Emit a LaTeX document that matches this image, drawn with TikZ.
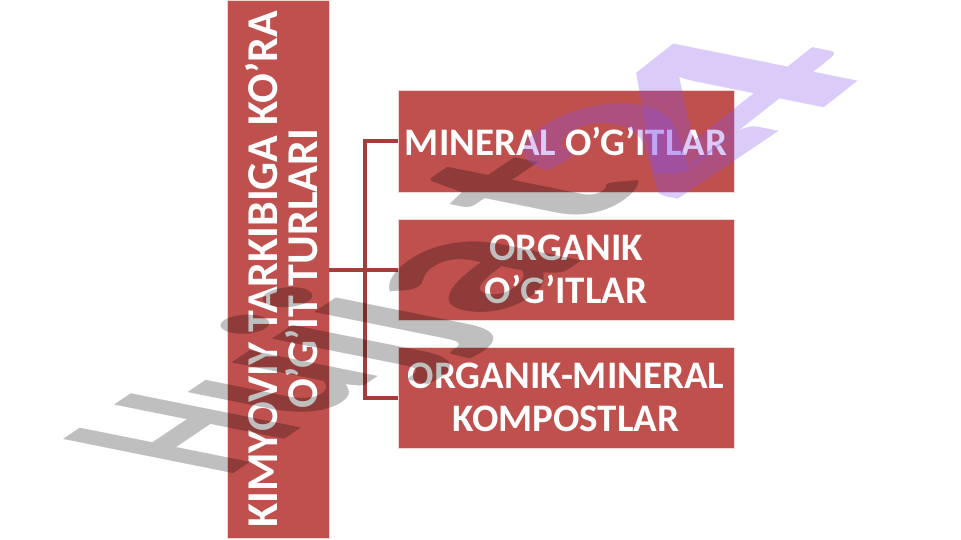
\documentclass[tikz,border=0pt]{standalone}
\usepackage{fontspec}
\setmainfont{Carlito}
\definecolor{boxred}{RGB}{192,80,77}
\definecolor{connred}{RGB}{165,62,58}
\definecolor{boxline}{RGB}{240,215,214}
\definecolor{wmpurple}{RGB}{134,83,238}
\newcommand\wmch[8]{\begin{scope}[cm={#4,#5,#6,#7,(#2pt,#3pt)}]\node[wm,#8] at (0,0) {#1};\end{scope}}
\begin{document}
\begin{tikzpicture}[x=1pt,y=1pt,
  box/.style={draw=boxline, line width=0.8pt, fill=boxred, inner sep=0pt},
  lbl/.style={text=white, font=\bfseries\fontsize{39}{43}\selectfont, align=center},
  conn/.style={draw=connred, line width=4pt},
  wm/.style={anchor=base west, inner sep=0pt, outer sep=0pt, transform shape, font=\bfseries\fontsize{100}{100}\selectfont},
  wmgray/.style={text=black, opacity=0.25},
  wmviolet/.style={text=wmpurple, opacity=0.3}]
\fill[white] (0,0) rectangle (961,-540);
\useasboundingbox (0,0) rectangle (961,-540);
% main vertical box
\node[box, minimum width=102pt, minimum height=538pt] (main) at (278,-269) {};
\node[lbl, rotate=90, font=\bfseries\fontsize{44}{40}\selectfont] (maintext) at ([xshift=4pt]main.center) {KIMYOVIY TARKIBIGA KO’RA\\O’G’IT TURLARI};
% right boxes
\node[box, lbl, minimum width=336pt, minimum height=102pt] (b1) at (566,-141) {MINERAL O’G’ITLAR};
\node[box, lbl, minimum width=336pt, minimum height=101pt] (b2) at (566,-269.5) {ORGANIK\\O’G’ITLAR};
\node[box, lbl, minimum width=336pt, minimum height=101pt] (b3) at (566,-397.5) {ORGANIK-MINERAL\\KOMPOSTLAR};
% connectors
\draw[conn] (main.east |- b2.west) -- (b2.west);
\draw[conn] (b1.west) -- ++(-33pt,0) |- (b3.west);
% watermark
\wmch{H}{226}{-478}{1.302}{0.878}{-2.626}{0.528}{wmgray}
\wmch{u}{308}{-423}{1.467}{0.989}{-2.646}{0.532}{wmgray}
\wmch{j}{390}{-372}{1.650}{1.110}{-2.666}{0.536}{wmgray}
\wmch{j}{432}{-346}{1.750}{1.180}{-2.675}{0.538}{wmgray}
\wmch{a}{490}{-322}{2.070}{1.395}{-2.695}{0.542}{wmgray}
\wmch{t}{575}{-232}{2.200}{1.480}{-2.724}{0.548}{wmgray}
\wmch{2}{670}{-205}{2.300}{1.550}{-2.850}{0.570}{wmviolet}
\wmch{4}{720}{-190}{3.300}{2.600}{-2.842}{0.571}{wmviolet}
\end{tikzpicture}
\end{document}
